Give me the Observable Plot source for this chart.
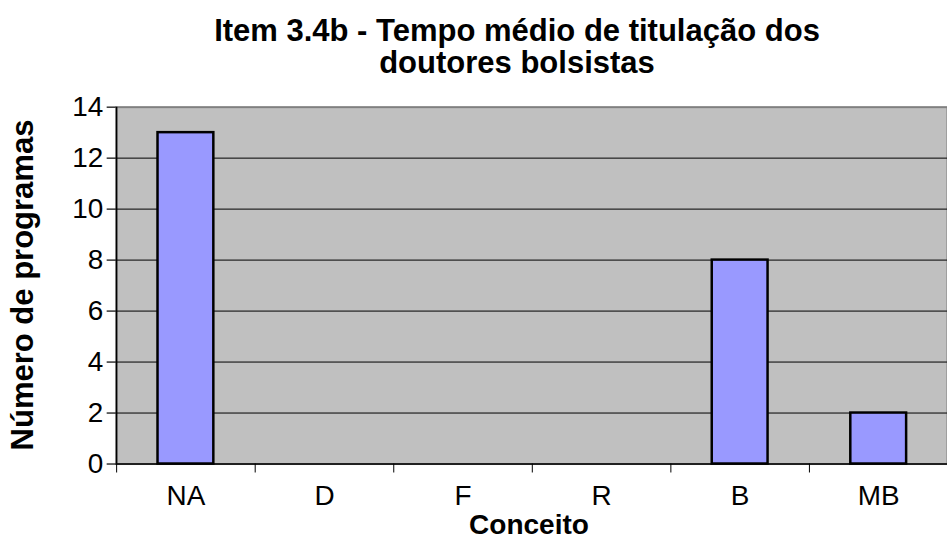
<!DOCTYPE html>
<html><head><meta charset="utf-8">
<script src="https://cdn.jsdelivr.net/npm/d3@7"></script>
<script src="https://cdn.jsdelivr.net/npm/@observablehq/plot@0.6"></script>
<style>
html,body{margin:0;padding:0;background:#fff;overflow:hidden;width:947px;height:560px;}
#wrap{position:relative;width:947px;height:560px;font-family:"Liberation Sans",Arial,sans-serif;}
.t{position:absolute;font-weight:bold;color:#000;white-space:nowrap;}
#title{left:517px;top:15px;transform:translateX(-50%);text-align:center;font-size:31px;line-height:32px;}
#xlab{left:529px;top:525px;transform:translate(-50%,-50%);font-size:28px;}
#ylab{left:23px;top:285px;font-size:31px;transform:translate(-50%,-50%) rotate(-90deg);}
#chart{position:absolute;left:0;top:0;}
</style></head>
<body><div id="wrap">
<div id="chart"></div>
<div class="t" id="title">Item 3.4b - Tempo médio de titulação dos<br>doutores bolsistas</div>
<div class="t" id="ylab">Número de programas</div>
<div class="t" id="xlab">Conceito</div>
</div>
<script>
const categories = ["NA", "D", "F", "R", "B", "MB"];
const values = [13, 0, 0, 0, 8, 2];
const yTicks = [0, 2, 4, 6, 8, 10, 12, 14];

const data = categories.map((c, i) => ({c, v: values[i]}));
const W = 950, ML = 116, MR = 0;
const step = (W - ML - MR) / categories.length;

const chart = Plot.plot({
  width: W, height: 560,
  marginTop: 107, marginBottom: 95, marginLeft: ML, marginRight: MR,
  style: {fontFamily: "'Liberation Sans', Arial, sans-serif", fontSize: "28px", background: "transparent", color: "#000"},
  x: {type: "band", domain: categories, paddingInner: 0.6, paddingOuter: 0.3, align: 0.5, label: null},
  y: {type: "linear", domain: [0, 14], label: null},
  marks: [
    Plot.frame({fill: "#C0C0C0", stroke: "#808080", strokeWidth: 2}),
    Plot.ruleY(yTicks.filter(t => t > 0 && t < 14), {stroke: "#000", strokeWidth: 1}),
    Plot.barY(data.filter(d => d.v > 0), {x: "c", y: "v", fill: "#9999FF", stroke: "#000", strokeWidth: 2.5}),
    Plot.ruleY([0], {stroke: "#000", strokeWidth: 1.5}),
    Plot.ruleX([categories[0]], {x: d => d, dx: -step / 2, y1: 0, y2: 14, stroke: "#000", strokeWidth: 1.5}),
    Plot.axisY({ticks: yTicks, tickSize: 9, tickPadding: 4, fontSize: 28, stroke: "#000", strokeWidth: 1.2}),
    Plot.ruleX(categories, {x: d => d, dx: -step / 2, y1: 0, y2: 0, insetBottom: -9, stroke: "#000", strokeWidth: 1}),
    Plot.axisX({tickSize: 0, tickPadding: 21, fontSize: 28})
  ]
});
document.getElementById("chart").appendChild(chart);
</script>
</body></html>
